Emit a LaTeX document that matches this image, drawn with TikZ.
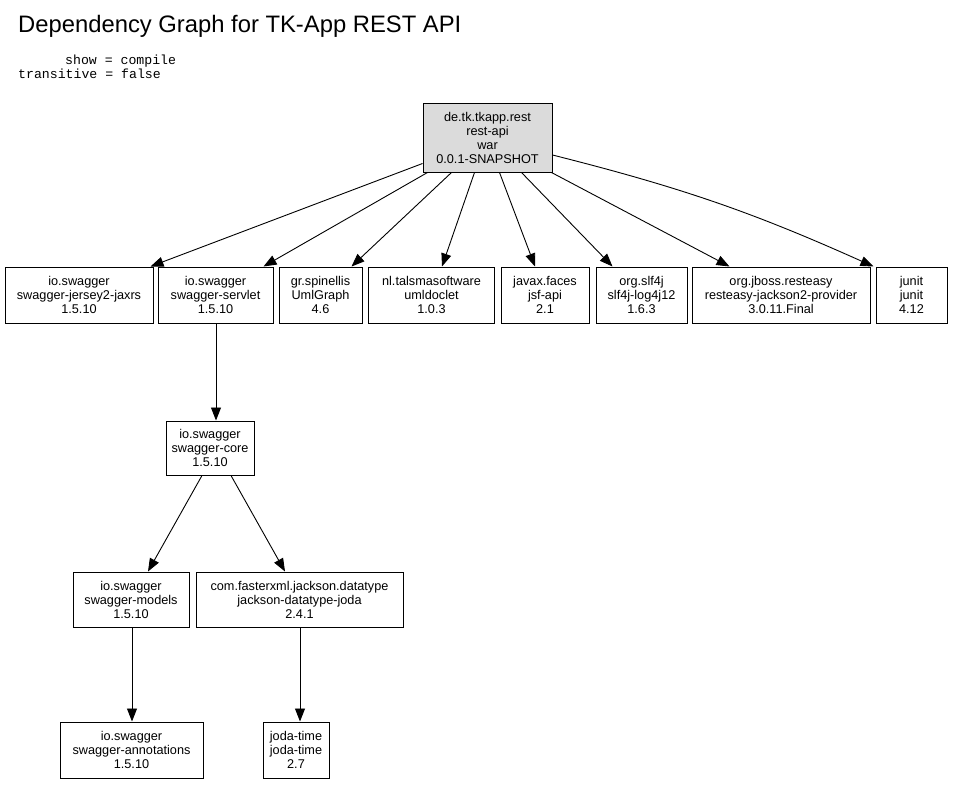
\documentclass[tikz,border=0pt]{standalone}
\usepackage{fontspec}
\setmainfont{Liberation Sans}
\setmonofont{Liberation Mono}
\usetikzlibrary{arrows.meta}
\begin{document}
\begin{tikzpicture}[x=1pt,y=-1pt,
  dep/.style={draw=black,line width=1pt,inner sep=0pt,align=center,
    font=\fontsize{12.7}{14}\selectfont},
  rootnode/.style={dep,fill=black!14},
  edge/.style={line width=0.9pt,-{Triangle[length=13pt,width=10pt]}}]
\useasboundingbox (0,0) rectangle (953,785);
\node[anchor=base west,inner sep=0pt,font=\fontsize{23.8}{28}\selectfont] (title) at (18,32) {Dependency Graph for TK-App REST API};
\node[anchor=base west,inner sep=0pt,font=\ttfamily\fontsize{13.2}{14}\selectfont] (show) at (65,64) {show = compile};
\node[anchor=base west,inner sep=0pt,font=\ttfamily\fontsize{13.2}{14}\selectfont] (trans) at (18,78) {transitive = false};

\node[rootnode,minimum width=129pt,minimum height=69pt] (root) at (487.5,137.5) {de.tk.tkapp.rest\\rest-api\\war\\0.0.1-SNAPSHOT};

\node[dep,minimum width=148pt,minimum height=56pt] (jersey) at (79,295) {io.swagger\\swagger-jersey2-jaxrs\\1.5.10};
\node[dep,minimum width=115pt,minimum height=56pt] (servlet) at (215.5,295) {io.swagger\\swagger-servlet\\1.5.10};
\node[dep,minimum width=83pt,minimum height=56pt] (uml) at (320.5,295) {gr.spinellis\\UmlGraph\\4.6};
\node[dep,minimum width=126pt,minimum height=56pt] (umldoclet) at (431.5,295) {nl.talsmasoftware\\umldoclet\\1.0.3};
\node[dep,minimum width=88pt,minimum height=56pt] (jsf) at (545,295) {javax.faces\\jsf-api\\2.1};
\node[dep,minimum width=91pt,minimum height=56pt] (slf) at (641.5,295) {org.slf4j\\slf4j-log4j12\\1.6.3};
\node[dep,minimum width=178pt,minimum height=56pt] (resteasy) at (781,295) {org.jboss.resteasy\\resteasy-jackson2-provider\\3.0.11.Final};
\node[dep,minimum width=71pt,minimum height=56pt] (junit) at (911.5,295) {junit\\junit\\4.12};

\node[dep,minimum width=88pt,minimum height=54pt] (core) at (210,448) {io.swagger\\swagger-core\\1.5.10};
\node[dep,minimum width=116pt,minimum height=55pt] (models) at (131,599.5) {io.swagger\\swagger-models\\1.5.10};
\node[dep,minimum width=207pt,minimum height=55pt] (joda) at (299.5,599.5) {com.fasterxml.jackson.datatype\\jackson-datatype-joda\\2.4.1};
\node[dep,minimum width=143pt,minimum height=56pt] (annot) at (131.5,750) {io.swagger\\swagger-annotations\\1.5.10};
\node[dep,minimum width=66pt,minimum height=56pt] (jodatime) at (296,750) {joda-time\\joda-time\\2.7};

\draw[edge] ([yshift=9pt]root.south west) -- ([xshift=-3pt]jersey.north east);
\draw[edge] ([xshift=5pt]root.south west) -- ([xshift=-10pt]servlet.north east);
\draw[edge] ([xshift=29pt]root.south west) -- ([xshift=-11pt]uml.north east);
\draw[edge] ([xshift=52pt]root.south west) -- ([xshift=10.5pt]umldoclet.north);
\draw[edge] ([xshift=77pt]root.south west) -- ([xshift=-10pt]jsf.north);
\draw[edge] ([xshift=99pt]root.south west) -- ([xshift=17pt]slf.north west);
\draw[edge] ([xshift=-1pt]root.south east) -- ([xshift=38pt]resteasy.north west);
\draw[edge] ([yshift=-17.5pt]root.east) to[bend left=5] ([xshift=-2pt]junit.north west);

\draw[edge] ([xshift=0.5pt]servlet.south) -- ([xshift=6pt]core.north);
\draw[edge] ([xshift=-8pt]core.south) -- ([xshift=17pt]models.north);
\draw[edge] ([xshift=21pt]core.south) -- ([xshift=-14.5pt]joda.north);
\draw[edge] ([xshift=1pt]models.south) -- ([xshift=0.5pt]annot.north);
\draw[edge] ([xshift=0.5pt]joda.south) -- ([xshift=4pt]jodatime.north);
\end{tikzpicture}
\end{document}
